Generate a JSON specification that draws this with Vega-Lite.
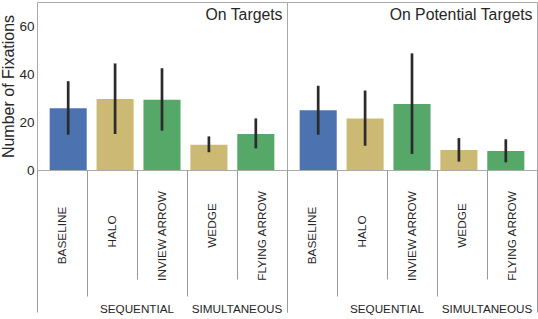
{
  "$schema": "https://vega.github.io/schema/vega-lite/v6.json",
  "padding": {"left": 0, "top": 1, "right": 0, "bottom": 0},
  "data": {"values": [
    {"panel": "On Targets", "condition": "BASELINE", "mean": 25.7, "lo": 14.7, "hi": 37.0},
    {"panel": "On Targets", "condition": "HALO", "mean": 29.6, "lo": 15.0, "hi": 44.4},
    {"panel": "On Targets", "condition": "INVIEW ARROW", "mean": 29.3, "lo": 16.4, "hi": 42.4},
    {"panel": "On Targets", "condition": "WEDGE", "mean": 10.5, "lo": 7.4, "hi": 14.0},
    {"panel": "On Targets", "condition": "FLYING ARROW", "mean": 15.0, "lo": 9.0, "hi": 21.5},
    {"panel": "On Potential Targets", "condition": "BASELINE", "mean": 24.9, "lo": 14.7, "hi": 35.1},
    {"panel": "On Potential Targets", "condition": "HALO", "mean": 21.5, "lo": 10.1, "hi": 33.1},
    {"panel": "On Potential Targets", "condition": "INVIEW ARROW", "mean": 27.5, "lo": 6.7, "hi": 48.6},
    {"panel": "On Potential Targets", "condition": "WEDGE", "mean": 8.3, "lo": 3.5, "hi": 13.3},
    {"panel": "On Potential Targets", "condition": "FLYING ARROW", "mean": 7.9, "lo": 3.2, "hi": 12.8}
  ]},
  "config": {
    "font": "Liberation Sans",
    "view": {"stroke": "#aaaaaa", "strokeWidth": 1},
    "axis": {"labelColor": "#262626", "titleColor": "#262626", "titleFontWeight": "normal", "grid": false, "domain": false, "labelFont": "Liberation Sans", "titleFont": "Liberation Sans"},
    "axisY": {"ticks": false, "labelFontSize": 13.5, "labelPadding": 3, "titleFontSize": 16, "titlePadding": 2}
  },
  "bounds": "flush",
  "spacing": 0,
  "hconcat": [
    {
      "width": 250, "height": 168,
      "transform": [{"filter": "datum.panel === 'On Targets'"}],
      "layer": [
        {"layer": [
          {"mark": {"type": "bar"},
           "encoding": {
             "x": {"field": "condition", "type": "nominal", "sort": ["BASELINE", "HALO", "INVIEW ARROW", "WEDGE", "FLYING ARROW"], "scale": {"paddingInner": 0.21, "paddingOuter": 0.27}, "axis": null},
             "y": {"field": "mean", "type": "quantitative", "scale": {"domain": [0, 70], "nice": false}, "axis": {"values": [0, 20, 40, 60], "title": "Number of Fixations"}},
             "color": {"field": "condition", "type": "nominal", "scale": {"domain": ["BASELINE", "HALO", "INVIEW ARROW", "WEDGE", "FLYING ARROW"], "range": ["#4c72b0", "#ccb974", "#55a868", "#ccb974", "#55a868"]}, "legend": null}
           }},
          {"mark": {"type": "rule", "color": "#2b2b2b", "strokeWidth": 2.7},
           "encoding": {
             "x": {"field": "condition", "type": "nominal", "sort": ["BASELINE", "HALO", "INVIEW ARROW", "WEDGE", "FLYING ARROW"], "scale": {"paddingInner": 0.21, "paddingOuter": 0.27}, "axis": null},
             "y": {"field": "lo", "type": "quantitative", "scale": {"domain": [0, 70], "nice": false}, "axis": {"values": [0, 20, 40, 60], "title": "Number of Fixations"}},
             "y2": {"field": "hi"}
           }}
        ]},
        {"layer": [
          {"mark": {"type": "rule", "opacity": 0},
           "encoding": {
             "x": {"field": "condition", "type": "nominal", "scale": {"domain": ["BASELINE", "HALO", "INVIEW ARROW", "WEDGE", "FLYING ARROW"], "paddingInner": 0, "paddingOuter": 0},
               "axis": {"orient": "bottom", "title": null, "bandPosition": 0, "labelAngle": -90, "labelAlign": "center", "labelBaseline": "middle", "labelFontSize": 11.8, "tickColor": "#999999", "tickWidth": 1,
                 "tickSize": {"condition": [{"test": "datum.value === 'BASELINE'", "value": 142}, {"test": "datum.value === 'HALO' || datum.value === 'WEDGE'", "value": 126}], "value": 109},
                 "labelPadding": {"condition": [{"test": "datum.value === 'BASELINE'", "value": -77}, {"test": "datum.value === 'HALO'", "value": -65}, {"test": "datum.value === 'WEDGE'", "value": -71}], "value": -43.5}}}
           }},
          {"transform": [{"filter": "datum.condition === 'FLYING ARROW'"}],
           "mark": {"type": "text", "align": "right", "baseline": "alphabetic", "dx": -4.5, "dy": 17.5, "fontSize": 15.8, "color": "#262626"},
           "encoding": {
             "x": {"field": "condition", "type": "nominal", "bandPosition": 1},
             "y": {"datum": 70, "type": "quantitative"},
             "text": {"field": "panel"}
           }}
        ]},
        {"mark": {"type": "rule", "opacity": 0},
         "encoding": {
           "x": {"field": "condition", "type": "nominal", "scale": {"domain": ["BASELINE", "HALO", "INVIEW ARROW", "WEDGE", "FLYING ARROW"], "paddingInner": 0, "paddingOuter": 0},
             "axis": {"orient": "bottom", "title": null, "values": ["INVIEW ARROW", "FLYING ARROW"], "bandPosition": 1, "labelExpr": "datum.value === 'INVIEW ARROW' ? 'SEQUENTIAL' : 'SIMULTANEOUS'", "labelAngle": 0, "labelAlign": "center", "labelBaseline": "middle", "labelOffset": -25, "labelPadding": -4, "labelFontSize": 11.7, "tickSize": 142, "tickColor": "#999999", "tickWidth": 1,
               "tickOpacity": {"condition": {"test": "datum.value === 'INVIEW ARROW'", "value": 0}, "value": 1}}}
         }}
      ],
      "resolve": {"scale": {"x": "independent"}}
    },
    {
      "width": 250, "height": 168,
      "transform": [{"filter": "datum.panel === 'On Potential Targets'"}],
      "layer": [
        {"layer": [
          {"mark": {"type": "bar"},
           "encoding": {
             "x": {"field": "condition", "type": "nominal", "sort": ["BASELINE", "HALO", "INVIEW ARROW", "WEDGE", "FLYING ARROW"], "scale": {"paddingInner": 0.21, "paddingOuter": 0.27}, "axis": null},
             "y": {"field": "mean", "type": "quantitative", "scale": {"domain": [0, 70], "nice": false}, "axis": null},
             "color": {"field": "condition", "type": "nominal", "scale": {"domain": ["BASELINE", "HALO", "INVIEW ARROW", "WEDGE", "FLYING ARROW"], "range": ["#4c72b0", "#ccb974", "#55a868", "#ccb974", "#55a868"]}, "legend": null}
           }},
          {"mark": {"type": "rule", "color": "#2b2b2b", "strokeWidth": 2.7},
           "encoding": {
             "x": {"field": "condition", "type": "nominal", "sort": ["BASELINE", "HALO", "INVIEW ARROW", "WEDGE", "FLYING ARROW"], "scale": {"paddingInner": 0.21, "paddingOuter": 0.27}, "axis": null},
             "y": {"field": "lo", "type": "quantitative", "scale": {"domain": [0, 70], "nice": false}, "axis": null},
             "y2": {"field": "hi"}
           }}
        ]},
        {"layer": [
          {"mark": {"type": "rule", "opacity": 0},
           "encoding": {
             "x": {"field": "condition", "type": "nominal", "scale": {"domain": ["BASELINE", "HALO", "INVIEW ARROW", "WEDGE", "FLYING ARROW"], "paddingInner": 0, "paddingOuter": 0},
               "axis": {"orient": "bottom", "title": null, "bandPosition": 0, "labelAngle": -90, "labelAlign": "center", "labelBaseline": "middle", "labelFontSize": 11.8, "tickColor": "#999999", "tickWidth": 1,
                 "tickSize": {"condition": [{"test": "datum.value === 'BASELINE'", "value": 142}, {"test": "datum.value === 'HALO' || datum.value === 'WEDGE'", "value": 126}], "value": 109},
                 "labelPadding": {"condition": [{"test": "datum.value === 'BASELINE'", "value": -77}, {"test": "datum.value === 'HALO'", "value": -65}, {"test": "datum.value === 'WEDGE'", "value": -71}], "value": -43.5}}}
           }},
          {"transform": [{"filter": "datum.condition === 'FLYING ARROW'"}],
           "mark": {"type": "text", "align": "right", "baseline": "alphabetic", "dx": -4.5, "dy": 17.5, "fontSize": 15.8, "color": "#262626"},
           "encoding": {
             "x": {"field": "condition", "type": "nominal", "bandPosition": 1},
             "y": {"datum": 70, "type": "quantitative"},
             "text": {"field": "panel"}
           }}
        ]},
        {"mark": {"type": "rule", "opacity": 0},
         "encoding": {
           "x": {"field": "condition", "type": "nominal", "scale": {"domain": ["BASELINE", "HALO", "INVIEW ARROW", "WEDGE", "FLYING ARROW"], "paddingInner": 0, "paddingOuter": 0},
             "axis": {"orient": "bottom", "title": null, "values": ["INVIEW ARROW", "FLYING ARROW"], "bandPosition": 1, "labelExpr": "datum.value === 'INVIEW ARROW' ? 'SEQUENTIAL' : 'SIMULTANEOUS'", "labelAngle": 0, "labelAlign": "center", "labelBaseline": "middle", "labelOffset": -25, "labelPadding": -4, "labelFontSize": 11.7, "tickSize": 142, "tickColor": "#999999", "tickWidth": 1,
               "tickOpacity": {"condition": {"test": "datum.value === 'INVIEW ARROW'", "value": 0}, "value": 1}}}
         }}
      ],
      "resolve": {"scale": {"x": "independent"}}
    }
  ]
}
